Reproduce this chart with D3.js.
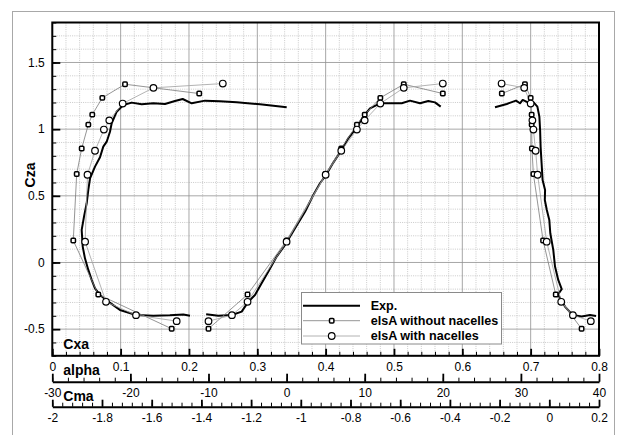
<!DOCTYPE html>
<html>
<head>
<meta charset="utf-8">
<script src="https://cdn.jsdelivr.net/npm/d3@7/dist/d3.min.js"></script>
<style>
  html, body { margin: 0; padding: 0; background: #fff; }
  svg { display: block; }
  text { font-family: "Liberation Sans", Arial, Helvetica, sans-serif; }
</style>
</head>
<body>
<svg id="chart" width="617" height="435"></svg>
<script>
// ---- Experimental polars (Exp.) ----
// lift vs drag: [Cxa, Cza]
const expDrag = [
  [0.2015,-0.399],[0.1917,-0.391],[0.172,-0.396],[0.1478,-0.399],[0.1225,-0.394],
  [0.099,-0.356],[0.082,-0.294],[0.0698,-0.244],[0.0625,-0.194],[0.0576,-0.131],
  [0.0527,-0.056],[0.0478,0.031],[0.0445,0.119],[0.043,0.244],[0.0464,0.344],
  [0.0503,0.444],[0.0527,0.544],[0.0552,0.63],[0.0625,0.719],[0.0698,0.789],
  [0.0746,0.869],[0.0796,0.906],[0.0844,0.981],[0.0869,1.044],[0.0942,1.131],
  [0.1039,1.181],[0.1162,1.199],[0.1308,1.186],[0.1478,1.194],[0.1649,1.189],
  [0.1795,1.211],[0.1908,1.226],[0.204,1.194],[0.2234,1.214],[0.2454,1.209],
  [0.2698,1.201],[0.3039,1.186],[0.343,1.164]
];
// lift vs incidence: [alpha, Cza]
const expAlpha = [
  [-10.3,-0.389],[-8.75,-0.4],[-7.0,-0.394],[-5.75,-0.369],[-4.9,-0.294],
  [-4.05,-0.244],[-3.2,-0.156],[-2.35,-0.069],[-1.27,0.044],[-0.2,0.131],
  [1.08,0.256],[2.36,0.381],[3.42,0.506],[4.28,0.594],[5.05,0.656],
  [5.98,0.749],[6.97,0.836],[7.9,0.931],[8.98,1.014],[9.82,1.094],
  [10.68,1.156],[11.96,1.194],[13.24,1.194],[14.74,1.194],[15.8,1.214],
  [17.08,1.194],[18.14,1.211],[19.0,1.201],[19.73,1.169]
];
// lift vs pitching moment: [Cma, Cza]
const expMoment = [
  [0.188,-0.401],[0.164,-0.394],[0.13,-0.406],[0.094,-0.394],[0.063,-0.331],
  [0.035,-0.24],[0.05,-0.2],[0.036,-0.131],[0.023,-0.031],[0.016,0.094],
  [0.004,0.219],[0.0,0.319],[-0.01,0.394],[-0.018,0.469],[-0.017,0.544],
  [-0.027,0.619],[-0.031,0.744],[-0.035,0.869],[-0.037,0.994],[-0.04,1.094],
  [-0.048,1.169],[-0.062,1.199],[-0.078,1.194],[-0.107,1.219],[-0.118,1.194],
  [-0.134,1.214],[-0.171,1.189],[-0.2185,1.164]
];

// ---- elsA computations without nacelles ----
const noNacAlpha = [-10, -5, 0, 5, 7, 9, 10, 12, 15, 20];
const noNacCza   = [-0.497, -0.24, 0.165, 0.664, 0.855, 1.034, 1.109, 1.235, 1.337, 1.267];
const noNacCxa   = [0.1747, 0.0673, 0.0307, 0.0357, 0.043, 0.0527, 0.0585, 0.0732, 0.1064, 0.215];
const noNacCma   = [0.13, 0.026, -0.025, -0.064, -0.07, -0.071, -0.071, -0.075, -0.098, -0.191];

// ---- elsA computations with nacelles ----
const nacAlpha = [-10, -7, -5, 0, 5, 7, 9, 10, 12, 15, 20];
const nacCza   = [-0.44, -0.395, -0.295, 0.156, 0.658, 0.838, 0.997, 1.066, 1.192, 1.31, 1.342];
const nacCxa   = [0.182, 0.1225, 0.0786, 0.048, 0.0515, 0.0625, 0.0755, 0.0834, 0.103, 0.148, 0.2495];
const nacCma   = [0.167, 0.095, 0.048, -0.0105, -0.047, -0.055, -0.064, -0.068, -0.075, -0.101, -0.192];

// ---- axis ticks ----
const czaTicks = [-0.5, 0, 0.5, 1, 1.5];
const czaLabels = ["-0.5", "0", "0.5", "1", "1.5"];
const cxaTicks = [0, 0.1, 0.2, 0.3, 0.4, 0.5, 0.6, 0.7, 0.8];
const cxaLabels = ["0", "0.1", "0.2", "0.3", "0.4", "0.5", "0.6", "0.7", "0.8"];
const alphaTicks = [-30, -20, -10, 0, 10, 20, 30, 40];
const alphaLabels = ["-30", "-20", "-10", "0", "10", "20", "30", "40"];
const cmaTicks = [-2, -1.8, -1.6, -1.4, -1.2, -1, -0.8, -0.6, -0.4, -0.2, 0, 0.2];
const cmaLabels = ["-2", "-1.8", "-1.6", "-1.4", "-1.2", "-1", "-0.8", "-0.6", "-0.4", "-0.2", "0", "0.2"];

const legendLabels = ["Exp.", "elsA without nacelles", "elsA with nacelles"];

// ---- layout ----
const X0 = 52.3, X1 = 599, Y0 = 22.5, Y1 = 355.8;
const alphaAxisY = 381.7, cmaAxisY = 406.7;

const xCxa = d3.scaleLinear([0, 0.8], [X0, X1]);
const xAlpha = d3.scaleLinear([-30, 40], [X0, X1]);
const xCma = d3.scaleLinear([-2, 0.2], [X0, X1]);
const y = d3.scaleLinear([-0.7, 1.8], [Y1, Y0]);

const svg = d3.select("#chart");

// outer frame
svg.append("rect").attr("x", 12.5).attr("y", 11.5).attr("width", 602).attr("height", 432)
  .attr("fill", "#fff").attr("stroke", "#a8a8a8").attr("stroke-width", 1);

// ---- grid ----
const grid = svg.append("g");
const minorX = d3.range(0, 0.8001, 0.02).filter(v => Math.abs(v * 10 - Math.round(v * 10)) > 1e-6);
const minorY = d3.range(-0.7, 1.8001, 0.1).filter(v => Math.abs(v * 2 - Math.round(v * 2)) > 1e-6);
grid.selectAll(".mx").data(minorX).join("line")
  .attr("x1", d => xCxa(d)).attr("x2", d => xCxa(d)).attr("y1", Y0).attr("y2", Y1)
  .attr("stroke", "#bdbdbd").attr("stroke-width", 0.8).attr("stroke-dasharray", "1,1.2");
grid.selectAll(".my").data(minorY).join("line")
  .attr("y1", d => y(d)).attr("y2", d => y(d)).attr("x1", X0).attr("x2", X1)
  .attr("stroke", "#bdbdbd").attr("stroke-width", 0.8).attr("stroke-dasharray", "1,1.2");
grid.selectAll(".Mx").data(cxaTicks).join("line")
  .attr("x1", d => xCxa(d)).attr("x2", d => xCxa(d)).attr("y1", Y0).attr("y2", Y1)
  .attr("stroke", "#909090").attr("stroke-width", 0.8);
grid.selectAll(".My").data(czaTicks).join("line")
  .attr("y1", d => y(d)).attr("y2", d => y(d)).attr("x1", X0).attr("x2", X1)
  .attr("stroke", "#909090").attr("stroke-width", 0.8);

// ---- curves ----
const curves = svg.append("g");
const line = d3.line();
function polyline(pts, color, width) {
  curves.append("path").attr("d", line(pts)).attr("fill", "none")
    .attr("stroke", color).attr("stroke-width", width).attr("stroke-linejoin", "round");
}
const zip = (xs, ys, sx) => xs.map((v, i) => [sx(v), y(ys[i])]);

// experiment
polyline(expDrag.map(d => [xCxa(d[0]), y(d[1])]), "#000", 2);
polyline(expAlpha.map(d => [xAlpha(d[0]), y(d[1])]), "#000", 2);
polyline(expMoment.map(d => [xCma(d[0]), y(d[1])]), "#000", 2);

// computations
const noNacColor = "#7a7a7a", nacColor = "#a0a0a0";
const noNacSets = [zip(noNacCxa, noNacCza, xCxa), zip(noNacAlpha, noNacCza, xAlpha), zip(noNacCma, noNacCza, xCma)];
const nacSets = [zip(nacCxa, nacCza, xCxa), zip(nacAlpha, nacCza, xAlpha), zip(nacCma, nacCza, xCma)];
noNacSets.forEach(p => polyline(p, noNacColor, 0.8));
nacSets.forEach(p => polyline(p, nacColor, 0.8));

function squareMark(g, pts) {
  g.selectAll(null).data(pts).join("rect")
    .attr("x", d => d[0] - 2.2).attr("y", d => d[1] - 2.2)
    .attr("width", 4.4).attr("height", 4.4).attr("rx", 1)
    .attr("fill", "#fff").attr("stroke", "#000").attr("stroke-width", 1.5);
}
function circleMark(g, pts) {
  g.selectAll(null).data(pts).join("circle")
    .attr("cx", d => d[0]).attr("cy", d => d[1]).attr("r", 3.3)
    .attr("fill", "#fff").attr("stroke", "#000").attr("stroke-width", 1.2);
}
const marks = svg.append("g");
noNacSets.forEach(p => squareMark(marks.append("g"), p));
nacSets.forEach(p => circleMark(marks.append("g"), p));

// ---- plot frame ----
svg.append("rect").attr("x", X0).attr("y", Y0).attr("width", X1 - X0).attr("height", Y1 - Y0)
  .attr("fill", "none").attr("stroke", "#000").attr("stroke-width", 2);

// ---- axes ----
function styleAxis(g, width) {
  g.selectAll("text").attr("font-size", 12).attr("fill", "#000")
    .attr("font-family", '"Liberation Sans", Arial, sans-serif');
  g.selectAll(".tick line").attr("stroke", "#000").attr("stroke-width", width);
}
function bottomAxis(scale, yPos, majors, labels, step, majorLen, minorLen, pad, drawDomain) {
  const [a, b] = scale.domain();
  const minors = d3.range(a, b + step / 2, step);
  const gMin = svg.append("g").attr("transform", `translate(0,${yPos})`)
    .call(d3.axisBottom(scale).tickValues(minors).tickFormat("").tickSizeInner(-minorLen).tickSizeOuter(0));
  gMin.select(".domain").remove();
  styleAxis(gMin, 1);
  const gMaj = svg.append("g").attr("transform", `translate(0,${yPos})`)
    .call(d3.axisBottom(scale).tickValues(majors).tickFormat((d, i) => labels[i])
      .tickSizeInner(-majorLen).tickSizeOuter(0).tickPadding(pad));
  if (drawDomain) gMaj.select(".domain").attr("stroke", "#000").attr("stroke-width", 2);
  else gMaj.select(".domain").remove();
  styleAxis(gMaj, 1.8);
}
bottomAxis(xCxa, Y1, cxaTicks, cxaLabels, 0.02, 7, 4, 6.3, false);
bottomAxis(xAlpha, alphaAxisY, alphaTicks, alphaLabels, 2, 8, 4, 6.3, true);
bottomAxis(xCma, cmaAxisY, cmaTicks, cmaLabels, 0.04, 7, 4, 6.6, true);

// Cza axis on the left
{
  const gMin = svg.append("g").attr("transform", `translate(${X0},0)`)
    .call(d3.axisLeft(y).tickValues(d3.range(-0.7, 1.8001, 0.1)).tickFormat("").tickSizeInner(-4).tickSizeOuter(0));
  gMin.select(".domain").remove();
  styleAxis(gMin, 1);
  const gMaj = svg.append("g").attr("transform", `translate(${X0},0)`)
    .call(d3.axisLeft(y).tickValues(czaTicks).tickFormat((d, i) => czaLabels[i])
      .tickSizeInner(-8).tickSizeOuter(0).tickPadding(7.5));
  gMaj.select(".domain").remove();
  styleAxis(gMaj, 1.8);
}

// ---- axis titles ----
svg.append("text").attr("transform", "translate(35,175) rotate(-90)")
  .attr("text-anchor", "middle").attr("font-size", 14).attr("font-weight", "bold").text("Cza");
svg.append("text").attr("x", 63.3).attr("y", 349).attr("font-size", 14).attr("font-weight", "bold").text("Cxa");
svg.append("text").attr("x", 63.3).attr("y", 375).attr("font-size", 14).attr("font-weight", "bold").text("alpha");
svg.append("text").attr("x", 63.3).attr("y", 401).attr("font-size", 14).attr("font-weight", "bold").text("Cma");

// ---- legend ----
const lg = svg.append("g");
lg.append("rect").attr("x", 301.5).attr("y", 292.5).attr("width", 200).attr("height", 51.5)
  .attr("fill", "#fff").attr("stroke", "#8a8a8a").attr("stroke-width", 1);
const rowY = [305.7, 320.7, 336];
lg.append("line").attr("x1", 303).attr("x2", 360).attr("y1", rowY[0]).attr("y2", rowY[0])
  .attr("stroke", "#000").attr("stroke-width", 2);
lg.append("line").attr("x1", 303).attr("x2", 360).attr("y1", rowY[1]).attr("y2", rowY[1])
  .attr("stroke", noNacColor).attr("stroke-width", 0.8);
lg.append("line").attr("x1", 303).attr("x2", 360).attr("y1", rowY[2]).attr("y2", rowY[2])
  .attr("stroke", nacColor).attr("stroke-width", 0.8);
squareMark(lg.append("g"), [[331.7, rowY[1]]]);
circleMark(lg.append("g"), [[331.7, rowY[2]]]);
lg.selectAll(".lt").data(legendLabels).join("text")
  .attr("x", 370.7).attr("y", (d, i) => rowY[i] + 4.4)
  .attr("font-size", 12.6).attr("font-weight", "bold").text(d => d);
</script>
</body>
</html>
